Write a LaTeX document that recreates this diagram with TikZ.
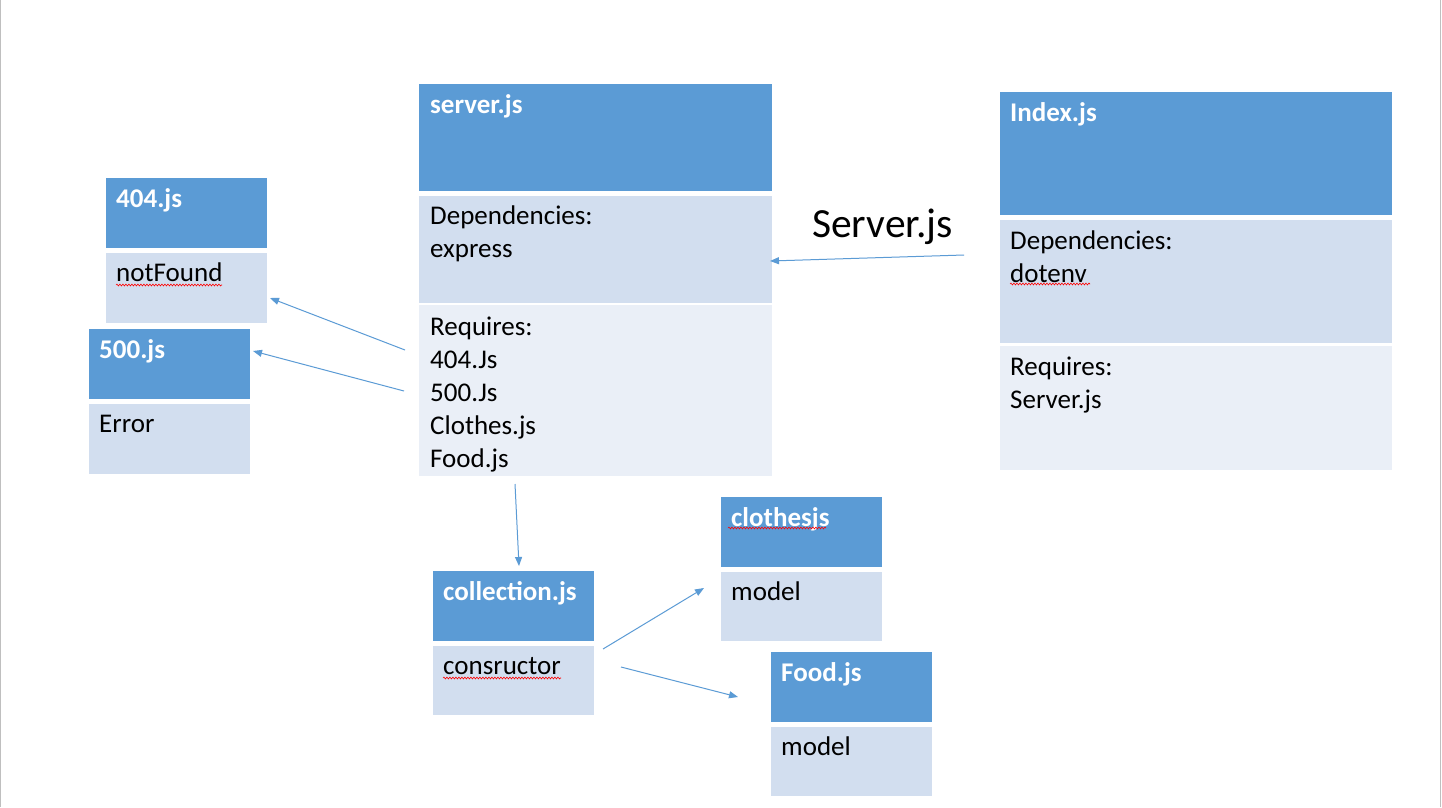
\documentclass[tikz,border=0pt]{standalone}
\usepackage{fontspec}
\setmainfont{Carlito}
\usetikzlibrary{arrows.meta,decorations.pathmorphing}
\definecolor{hdr}{HTML}{5B9BD5}
\definecolor{dep}{HTML}{D2DEEF}
\definecolor{req}{HTML}{EAEFF7}
\definecolor{arr}{HTML}{5B9BD5}
\definecolor{frame}{HTML}{BFBFBF}
\tikzset{
  cell/.style={inner sep=0pt, outer sep=0pt, anchor=north west, draw=none},
  hcell/.style={cell, fill=hdr},
  dcell/.style={cell, fill=dep},
  rcell/.style={cell, fill=req},
  txt/.style={inner sep=0pt, anchor=north west, align=left, font=\fontsize{27}{33}\selectfont},
  htxt/.style={txt, text=white, font=\fontsize{27}{33}\selectfont\bfseries},
  conn/.style={draw=arr, line width=1pt, -{Triangle[length=9pt,width=7pt]}},
  squig/.style={draw=red, line width=0.6pt, decorate, decoration={snake, amplitude=0.9pt, segment length=3pt}}
}
\begin{document}
\begin{tikzpicture}[x=1pt,y=-1pt]
\useasboundingbox (0,0) rectangle (1442,807);
\fill[white] (0,0) rectangle (1442,807);
\draw[frame, line width=1.2pt] (0.6,0) -- (0.6,807);
\draw[frame, line width=1.2pt] (1440.5,0) -- (1440.5,807);

% server.js
\node[hcell, minimum width=353pt, minimum height=107pt] (srvH) at (419,84) {};
\node[dcell, minimum width=353pt, minimum height=107pt] (srvD) at (419,196) {};
\node[rcell, minimum width=353pt, minimum height=171pt] (srvR) at (419,305) {};
\node[htxt] (srvHt) at (430,92) {\rule{0pt}{21pt}server.js};
\node[txt] (srvDt) at (430,203) {\rule{0pt}{21pt}Dependencies:\\express};
\node[txt] (srvRt) at (430,314) {\rule{0pt}{21pt}Requires:\\404.Js\\500.Js\\Clothes.js\\Food.js};

% Index.js
\node[hcell, minimum width=392pt, minimum height=123pt] (idxH) at (1000,92) {};
\node[dcell, minimum width=392pt, minimum height=123pt] (idxD) at (1000,220) {};
\node[rcell, minimum width=392pt, minimum height=124pt] (idxR) at (1000,346) {};
\node[htxt] (idxHt) at (1010,100) {\rule{0pt}{21pt}Index.js};
\node[txt] (idxDt) at (1010,228) {\rule{0pt}{21pt}Dependencies:\\dotenv};
\node[txt] (idxRt) at (1010,354) {\rule{0pt}{21pt}Requires:\\Server.js};

% 404.js
\node[hcell, minimum width=161pt, minimum height=70pt] (e4H) at (106,178) {};
\node[dcell, minimum width=161pt, minimum height=70pt] (e4B) at (106,253) {};
\node[htxt] (e4Ht) at (116,186) {\rule{0pt}{21pt}404.js};
\node[txt] (e4Bt) at (116,260) {\rule{0pt}{21pt}notFound};

% 500.js
\node[hcell, minimum width=161pt, minimum height=70pt] (e5H) at (89,329) {};
\node[dcell, minimum width=161pt, minimum height=70pt] (e5B) at (89,404) {};
\node[htxt] (e5Ht) at (99,337) {\rule{0pt}{21pt}500.js};
\node[txt] (e5Bt) at (99,411) {\rule{0pt}{21pt}Error};

% collection.js
\node[hcell, minimum width=161pt, minimum height=70pt] (colH) at (433,571) {};
\node[dcell, minimum width=161pt, minimum height=69pt] (colB) at (433,646) {};
\node[htxt] (colHt) at (443,579) {\rule{0pt}{21pt}collection.js};
\node[txt] (colBt) at (443,653) {\rule{0pt}{21pt}consructor};

% clothesjs
\node[hcell, minimum width=161pt, minimum height=70pt] (cloH) at (721,497) {};
\node[dcell, minimum width=161pt, minimum height=69pt] (cloB) at (721,572) {};
\node[htxt] (cloHt) at (731,505) {\rule{0pt}{21pt}clothesjs};
\node[txt] (cloBt) at (731,579) {\rule{0pt}{21pt}model};

% Food.js
\node[hcell, minimum width=161pt, minimum height=70pt] (fooH) at (771,652) {};
\node[dcell, minimum width=161pt, minimum height=69pt] (fooB) at (771,727) {};
\node[htxt] (fooHt) at (781,660) {\rule{0pt}{21pt}Food.js};
\node[txt] (fooBt) at (781,734) {\rule{0pt}{21pt}model};

% spell-check underlines
\draw[squig] (116,285) -- (222,285);
\draw[squig] (1010,284) -- (1090,284);
\draw[squig] (443,678) -- (561,678);
\draw[squig] (728,528) -- (826,528);

% label
\node[inner sep=0pt, anchor=base west, font=\fontsize{41.5}{48}\selectfont] (lbl) at (812,237) {Server.js};

% connector end points
\coordinate (a1s) at (964,255);
\coordinate (a1e) at (770,261);
\coordinate (a2s) at (405,350);
\coordinate (a2e) at (270,298);
\coordinate (a3s) at (404,391);
\coordinate (a3e) at (253,351);
\coordinate (a4s) at (515,484);
\coordinate (a4e) at (519,566);
\coordinate (a5s) at (603,649);
\coordinate (a5e) at (704,588);
\coordinate (a6s) at (621,667);
\coordinate (a6e) at (738,697);

\draw[conn] (a1s) -- (a1e);
\draw[conn] (a2s) -- (a2e);
\draw[conn] (a3s) -- (a3e);
\draw[conn] (a4s) -- (a4e);
\draw[conn] (a5s) -- (a5e);
\draw[conn] (a6s) -- (a6e);
\end{tikzpicture}
\end{document}
